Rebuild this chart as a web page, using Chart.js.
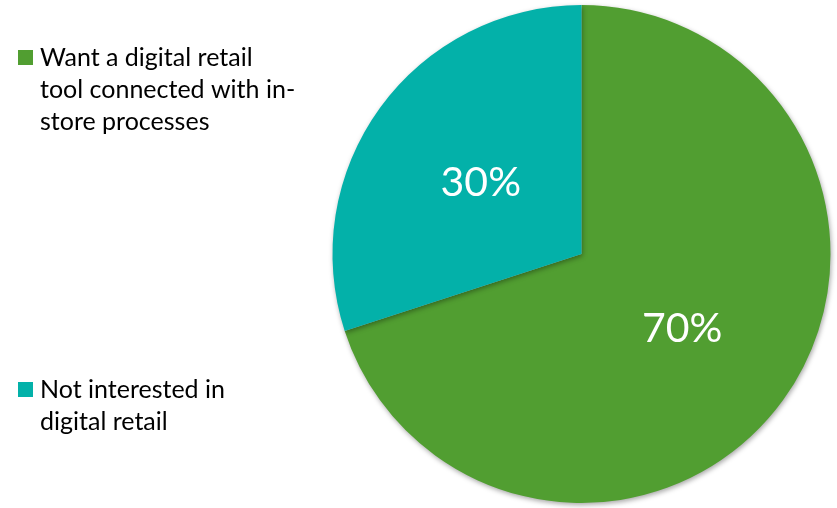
<!DOCTYPE html>
<html>
<head>
<meta charset="utf-8">
<script src="https://cdn.jsdelivr.net/npm/chart.js@4/dist/chart.umd.min.js"></script>
<style>
  html, body { margin: 0; padding: 0; background: #ffffff; }
  #wrap { position: relative; width: 837px; height: 508px; }
</style>
</head>
<body>
<div id="wrap"><canvas id="c" width="837" height="508"></canvas></div>
<script>
const categories = ["Want a digital retail tool connected with in-store processes", "Not interested in digital retail"];
const legendLines = [["Want a digital retail", "tool connected with in-", "store processes"], ["Not interested in", "digital retail"]];
const values = [70, 30];
const valueLabels = ["70%", "30%"];
const colors = ["#519E31", "#03B1A9"];

const FONT = "Lato, 'Open Sans', sans-serif";

const sideLegend = {
  id: 'sideLegend',
  afterDraw(chart) {
    const ctx = chart.ctx;
    ctx.save();
    const starts = [58, 390];
    const lh = 32;
    ctx.font = "25px " + FONT;
    ctx.textBaseline = "middle";
    ctx.fillStyle = "#000000";
    legendLines.forEach((lines, i) => {
      ctx.fillStyle = colors[i];
      ctx.fillRect(18, starts[i] - 8, 15, 15);
      ctx.fillStyle = "#000000";
      lines.forEach((t, j) => {
        ctx.fillText(t, 40, starts[i] + j * lh);
      });
    });
    ctx.restore();
  }
};

const sliceLabels = {
  id: 'sliceLabels',
  afterDatasetsDraw(chart) {
    const ctx = chart.ctx;
    const meta = chart.getDatasetMeta(0);
    ctx.save();
    ctx.font = "41px " + FONT;
    ctx.fillStyle = "#ffffff";
    ctx.textAlign = "center";
    ctx.textBaseline = "middle";
    meta.data.forEach((arc, i) => {
      const p = arc.tooltipPosition();
      ctx.fillText(valueLabels[i], p.x, p.y + 2);
    });
    ctx.restore();
  }
};

const shadowPlugin = {
  id: 'shadow',
  beforeDatasetsDraw(chart) {
    const ctx = chart.ctx;
    ctx.save();
    ctx.shadowColor = "rgba(0,0,0,0.35)";
    ctx.shadowBlur = 5;
    ctx.shadowOffsetX = 1;
    ctx.shadowOffsetY = 2;
  },
  afterDatasetsDraw(chart) {
    chart.ctx.restore();
  }
};

new Chart(document.getElementById('c'), {
  type: 'pie',
  data: {
    labels: categories,
    datasets: [{
      data: values,
      backgroundColor: colors,
      borderWidth: 0
    }]
  },
  options: {
    responsive: false,
    animation: false,
    devicePixelRatio: 1,
    layout: { padding: { left: 332, right: 6, top: 5, bottom: 5 } },
    plugins: {
      legend: { display: false },
      tooltip: { enabled: false }
    }
  },
  plugins: [shadowPlugin, sliceLabels, sideLegend]
});
</script>
</body>
</html>
